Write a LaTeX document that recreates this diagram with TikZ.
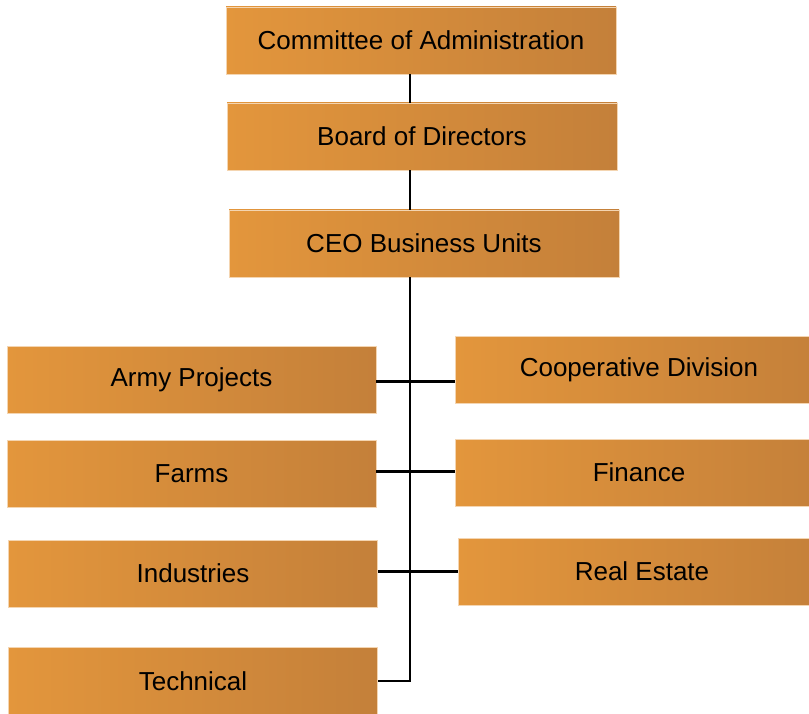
\documentclass[tikz,border=0pt]{standalone}
\usepackage{fontspec}
\setmainfont{Liberation Sans}
\definecolor{orlight}{RGB}{227,150,60}
\definecolor{ordark}{RGB}{196,128,58}
\begin{document}
\begin{tikzpicture}[x=1pt, y=-1pt, line width=2pt,
			box/.style = {left color=orlight, middle color=orlight, right color=ordark, draw=orlight!40!white, line width=0.6pt,
				minimum height=67pt, inner sep=0pt, font=\fontsize{26}{30}\selectfont},
			top/.style = {box, minimum width=390pt},
			left/.style = {box, minimum width=369pt},
			right/.style = {box, minimum width=368pt},
			link/.style = {line width=3pt}]
			
			\useasboundingbox (0,0) rectangle (809,714);
			
			\node[top] (1) at (421,40.5) {Committee of Administration};
			\node[top] (2) at (422,136.5) {Board of Directors};
			\node[top] (3) at (424,243.5) {CEO Business Units};
			
			\node[left] (4) at (191.5,379.5) {Army Projects};
			\node[left] (5) at (191.5,473.5) {Farms};
			\node[left] (6) at (193,573.5) {Industries};
			\node[left] (7) at (193,681) {Technical};
			
			\node[right] (8) at (639,370) {Cooperative Division};
			\node[right] (9) at (639,472.5) {Finance};
			\node[right] (10) at (642,571.5) {Real Estate};
			
			\coordinate (t) at (410,0);
			
			\draw (t |- 1.south) -- (t |- 2.north);
			\draw (t |- 2.south) -- (t |- 3.north);
			\draw (t |- 3.south) -- (t |- 7.east) -- (7.east);
			
			\draw[link] (4.east) ++(0,2) -- ++(79,0);
			\draw[link] (5.east) ++(0,-2) -- ++(79,0);
			\draw[link] (6.east) ++(0,-2) -- ++(80,0);
		\end{tikzpicture}
\end{document}
